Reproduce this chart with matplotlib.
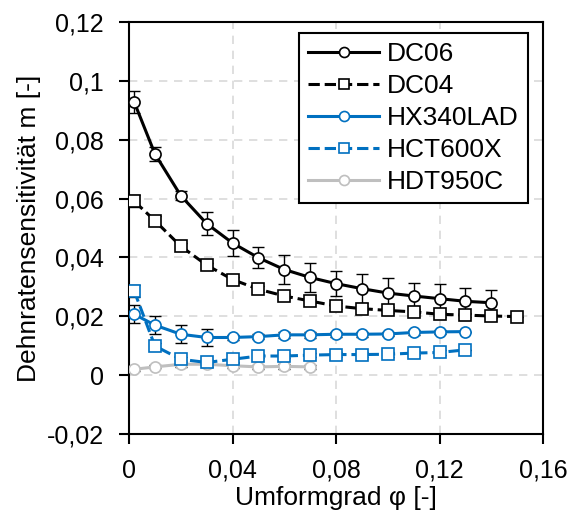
import numpy as np
import matplotlib.pyplot as plt
from matplotlib.ticker import FuncFormatter

plt.rcParams['font.family'] = ['Liberation Sans', 'DejaVu Sans']

# Data
x_dc06 = [0.002, 0.01, 0.02, 0.03, 0.04, 0.05, 0.06, 0.07, 0.08, 0.09, 0.10, 0.11, 0.12, 0.13, 0.14]
y_dc06 = [0.0928, 0.0752, 0.0610, 0.0515, 0.0449, 0.0399, 0.0359, 0.0332, 0.0311, 0.0294, 0.0279, 0.0269, 0.0260, 0.0251, 0.0246]
e_dc06 = [0.0038, 0.0025, 0.0015, 0.0040, 0.0045, 0.0035, 0.0050, 0.0050, 0.0043, 0.0050, 0.0050, 0.0043, 0.0050, 0.0044, 0.0044]

x_dc04 = [0.002, 0.01, 0.02, 0.03, 0.04, 0.05, 0.06, 0.07, 0.08, 0.09, 0.10, 0.11, 0.12, 0.13, 0.14, 0.15]
y_dc04 = [0.0591, 0.0525, 0.0438, 0.0374, 0.0325, 0.0292, 0.0269, 0.0252, 0.0235, 0.0226, 0.0220, 0.0215, 0.0207, 0.0204, 0.0201, 0.0199]
e_dc04 = [0.0020, 0.0015, 0.0010, 0.0008, 0.0008, 0.0010, 0.0008, 0.0008, 0.0010, 0.0008, 0.0010, 0.0008, 0.0008, 0.0008, 0.0008, 0.0]

x_hx = [0.002, 0.01, 0.02, 0.03, 0.04, 0.05, 0.06, 0.07, 0.08, 0.09, 0.10, 0.11, 0.12, 0.13]
y_hx = [0.0207, 0.0170, 0.0139, 0.0128, 0.0128, 0.0131, 0.0137, 0.0137, 0.0139, 0.0139, 0.0140, 0.0145, 0.0147, 0.0148]
e_hx = [0.0030, 0.0030, 0.0030, 0.0030, 0.0008, 0.0008, 0.0010, 0.0010, 0.0008, 0.0008, 0.0008, 0.0008, 0.0008, 0.0]

x_hct = [0.002, 0.01, 0.02, 0.03, 0.04, 0.05, 0.06, 0.07, 0.08, 0.09, 0.10, 0.11, 0.12, 0.13]
y_hct = [0.0286, 0.0099, 0.0054, 0.0043, 0.0054, 0.0065, 0.0065, 0.0068, 0.0070, 0.0070, 0.0071, 0.0075, 0.0077, 0.0086]
e_hct = [0.0020, 0.0010, 0.0008, 0.0008, 0.0008, 0.0008, 0.0008, 0.0008, 0.0008, 0.0008, 0.0008, 0.0008, 0.0008, 0.0]

x_hdt = [0.002, 0.01, 0.02, 0.03, 0.04, 0.05, 0.06, 0.07]
y_hdt = [0.0020, 0.0028, 0.0037, 0.0037, 0.0032, 0.0028, 0.0030, 0.0028]
e_hdt = [0.0005, 0.0005, 0.0008, 0.0008, 0.0008, 0.0008, 0.0008, 0.0008]

series = [
    ('DC06', x_dc06, y_dc06, e_dc06, 'black', '-', 'o'),
    ('DC04', x_dc04, y_dc04, e_dc04, 'black', '--', 's'),
    ('HX340LAD', x_hx, y_hx, e_hx, '#0070C0', '-', 'o'),
    ('HCT600X', x_hct, y_hct, e_hct, '#0070C0', '--', 's'),
    ('HDT950C', x_hdt, y_hdt, e_hdt, '#BFBFBF', '-', 'o'),
]

fig = plt.figure(figsize=(5.71, 5.13), dpi=100)
ax = fig.add_axes([0.226, 0.154, 0.725, 0.803])

handles = []
for name, xs, ys, es, col, ls, mk in reversed(series):
    ax.errorbar(xs, ys, yerr=es, fmt='none', ecolor='black', elinewidth=1,
                capsize=4, capthick=1, zorder=2)
    h, = ax.plot(xs, ys, color=col, linestyle=ls, linewidth=2.2, marker=mk,
                 markersize=8, markerfacecolor='white', markeredgecolor=col,
                 markeredgewidth=1.2, label=name, zorder=3)
    handles.append(h)
handles = handles[::-1]

ax.set_xlim(0, 0.16)
ax.set_ylim(-0.02, 0.12)
ax.set_xticks(np.arange(0, 0.161, 0.04))
ax.set_yticks(np.arange(-0.02, 0.121, 0.02))

def comma(v, pos):
    s = f'{v:.2f}'.rstrip('0').rstrip('.')
    if s in ('-0', '0'):
        s = '0'
    return s.replace('.', ',')

ax.xaxis.set_major_formatter(FuncFormatter(comma))
ax.yaxis.set_major_formatter(FuncFormatter(comma))
ax.tick_params(direction='out', length=7, width=1.5, labelsize=18, pad=11)
for sp in ax.spines.values():
    sp.set_linewidth(1.5)
ax.grid(True, color='#D9D9D9', linestyle=(0, (5, 4)), linewidth=1.2)
ax.set_axisbelow(True)

ax.set_xlabel('Umformgrad φ [-]', fontsize=19, labelpad=2)
ax.set_ylabel('Dehnratensensitivität m [-]', fontsize=19, labelpad=4)

leg = ax.legend(handles=handles, loc='upper right', bbox_to_anchor=(0.964, 0.973),
                borderaxespad=0, fontsize=19, numpoints=1, handlelength=2.7,
                handletextpad=0.3, labelspacing=0.3, borderpad=0.35,
                fancybox=False, edgecolor='black', framealpha=1, markerscale=0.9)
leg.get_frame().set_linewidth(1.5)

fig.savefig('out.png', dpi=100)
